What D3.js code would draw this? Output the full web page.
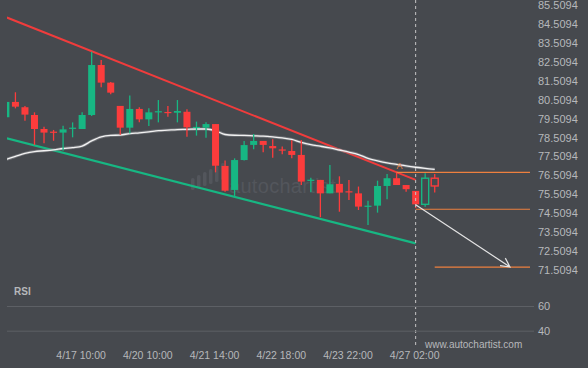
<!DOCTYPE html>
<html>
<head>
<meta charset="utf-8">
<script src="https://cdn.jsdelivr.net/npm/d3@7"></script>
<style>
    body { margin: 0; background: #46494e; }
    svg { display: block; font-family: "Liberation Sans", Arial, sans-serif; }
</style>
</head>
<body>
<svg id="chart" width="588" height="368"></svg>
<script>
// 4h candles
const times = [
    "4/16 02:00", "4/16 06:00", "4/16 10:00", "4/16 14:00", "4/16 18:00", "4/16 22:00",
    "4/17 02:00", "4/17 06:00", "4/17 10:00", "4/17 14:00", "4/17 18:00", "4/17 22:00",
    "4/19 22:00", "4/20 02:00", "4/20 06:00", "4/20 10:00", "4/20 14:00", "4/20 18:00",
    "4/20 22:00", "4/21 02:00", "4/21 06:00", "4/21 10:00", "4/21 14:00", "4/21 18:00",
    "4/21 22:00", "4/22 02:00", "4/22 06:00", "4/22 10:00", "4/22 14:00", "4/22 18:00",
    "4/22 22:00", "4/23 02:00", "4/23 06:00", "4/23 10:00", "4/23 14:00", "4/23 18:00",
    "4/23 22:00", "4/24 02:00", "4/24 06:00", "4/24 10:00", "4/24 14:00", "4/24 18:00",
    "4/26 22:00", "4/27 02:00", "4/27 06:00", "4/27 10:00"
];
const opens  = [79.42, 80.23, 79.95, 79.54, 78.80, 78.66, 78.61, 78.83, 78.80, 79.54, 82.18, 81.25,
                80.02, 78.87, 79.86, 79.31, 79.70, 79.70, 79.66, 79.71, 78.85, 78.87, 79.06, 76.85,
                75.58, 77.16, 77.96, 78.17, 77.90, 77.72, 77.64, 77.43, 76.08, 76.11, 75.40, 75.90,
                75.51, 75.40, 74.71, 74.75, 75.79, 76.20, 75.84, 75.53, 74.82, 76.20];
const highs  = [80.23, 80.74, 80.02, 79.68, 78.92, 78.75, 78.97, 79.15, 79.68, 82.88, 82.45, 81.28,
                80.02, 80.57, 79.95, 79.89, 80.33, 80.02, 80.33, 79.84, 79.19, 79.15, 79.06, 77.13,
                77.25, 78.17, 78.54, 78.17, 78.26, 77.87, 78.20, 78.22, 76.23, 76.11, 76.90, 76.30,
                76.11, 75.76, 75.01, 76.07, 76.42, 76.54, 75.84, 75.53, 76.46, 76.42];
const lows   = [79.40, 79.89, 79.24, 77.96, 78.05, 78.18, 77.65, 78.36, 78.80, 79.49, 81.00, 80.63,
                78.49, 78.56, 79.15, 78.96, 79.15, 79.45, 79.15, 78.39, 78.45, 78.34, 76.51, 75.49,
                75.22, 77.13, 77.73, 77.57, 77.28, 77.46, 77.25, 75.84, 75.46, 74.14, 75.40, 74.43,
                75.05, 74.52, 73.73, 74.38, 75.09, 75.84, 75.49, 74.62, 74.69, 75.44];
const closes = [80.23, 79.98, 79.56, 78.80, 78.61, 78.61, 78.78, 78.87, 79.54, 82.18, 81.25, 80.72,
                78.87, 79.86, 79.31, 79.68, 79.74, 79.66, 79.75, 78.89, 78.91, 79.06, 76.86, 75.54,
                77.16, 77.95, 78.17, 77.96, 77.78, 77.66, 77.43, 76.02, 76.12, 75.40, 75.88, 75.44,
                75.46, 74.70, 74.75, 75.79, 76.20, 75.84, 75.62, 74.82, 76.20, 75.79];
const movingAvg = [77.19, 77.35, 77.51, 77.61, 77.65, 77.70, 77.77, 77.82, 77.90, 78.17, 78.38, 78.46,
                   78.48, 78.56, 78.60, 78.65, 78.71, 78.74, 78.77, 78.78, 78.80, 78.80, 78.71, 78.51,
                   78.47, 78.46, 78.44, 78.42, 78.38, 78.33, 78.25, 78.09, 77.97, 77.89, 77.80, 77.69,
                   77.58, 77.45, 77.25, 77.12, 77.01, 76.93, 76.85, 76.78, 76.72, 76.67];
const rsiValues = [64.3, 64.3, 64.3, 61.6, 58.9, 55.7, 55.7, 59.4, 61.4, 61.4, 61.4, 58.9,
                   55.7, 55.7, 55.7, 58.1, 58.9, 55.7, 58.9, 55.7, 55.7, 55.7, 52.9, 50.0,
                   53.3, 53.3, 53.3, 53.3, 50.0, 50.0, 50.0, 47.6, 47.6, 44.6, 44.6, 44.6,
                   44.6, 44.6, 47.3, 50.0, 50.0, 47.3, 44.3, 41.1, 44.3, 44.3];

const priceTicks = [85.5094, 84.5094, 83.5094, 82.5094, 81.5094, 80.5094, 79.5094, 78.5094,
                    77.5094, 76.5094, 75.5094, 74.5094, 73.5094, 72.5094, 71.5094];
const timeTicks = ["4/17 10:00", "4/20 10:00", "4/21 14:00", "4/22 18:00", "4/23 22:00", "4/27 02:00"];
const rsiTicks = [60, 40];

// channel lines as [candle index, price]
const upperLine = [[0.1, 84.69], [43, 76.11]];
const lowerLine = [[0.1, 78.31], [43, 72.76]];
// pattern levels: [from index, price]
const levels = [[41, 76.51], [43, 74.56], [45, 71.50]];
const forecast = [[43, 74.80], [52.9, 71.51]];
const patternEnd = 43;      // dashed marker, candles after it are hollow
const lastIndex = 55;

const width = 588, height = 368;
const plotLeft = 7, plotRight = 535;
const red = "#fc3c3c", green = "#17b783", orange = "#ee803f";
const textColor = "#b6b8bb";

const svg = d3.select("#chart");
svg.append("rect").attr("width", width).attr("height", height).attr("fill", "#46494e");

const x = d3.scaleLinear().domain([0, lastIndex]).range([5.9, 530]);
const y = d3.scaleLinear().domain([71.5094, 85.5094]).range([267, 2]);
const rsiY = d3.scaleLinear().domain([40, 60]).range([330.7, 306]);

svg.append("clipPath").attr("id", "plot")
    .append("rect").attr("x", plotLeft).attr("y", 0)
    .attr("width", plotRight - plotLeft).attr("height", 280);

// watermark
let mark = svg.append("g").attr("fill", "#53565c");
d3.range(6).forEach(k => {
    mark.append("rect")
        .attr("x", 191 + k * 6).attr("y", 178 - k * 3)
        .attr("width", 3.5).attr("height", 12 + k).attr("rx", 1.5);
});
mark.append("text")
    .attr("x", 229).attr("y", 193)
    .attr("font-size", 20)
    .attr("letter-spacing", 0.3)
    .text("autochartist");

const layer = svg.append("g").attr("clip-path", "url(#plot)");
const line = d3.line().x(d => x(d[0])).y(d => y(d[1]));

layer.append("path").datum(lowerLine)
    .attr("d", line).attr("fill", "none")
    .attr("stroke", green).attr("stroke-width", 2.2);
layer.append("path").datum(upperLine)
    .attr("d", line).attr("fill", "none")
    .attr("stroke", "#f03c3c").attr("stroke-width", 2);

let maLine = d3.line().x((d, i) => x(i)).y(d => y(d)).curve(d3.curveMonotoneX);
layer.append("path").datum(movingAvg)
    .attr("d", maLine).attr("fill", "none")
    .attr("stroke", "#8c8e92").attr("stroke-width", 3).attr("opacity", 0.6);
layer.append("path").datum(movingAvg)
    .attr("d", maLine).attr("fill", "none")
    .attr("stroke", "#f2f2f2").attr("stroke-width", 1.3);

// candles
const candles = times.map((t, i) => ({
    i: i, o: opens[i], h: highs[i], l: lows[i], c: closes[i],
    up: closes[i] >= opens[i], hollow: i > patternEnd
}));
const bodyW = 7;

let cg = layer.selectAll(".candle")
    .data(candles)
    .join("g")
    .attr("class", "candle");

cg.append("line")
    .attr("x1", d => x(d.i)).attr("x2", d => x(d.i))
    .attr("y1", d => y(d.h))
    .attr("y2", d => d.hollow ? y(Math.max(d.o, d.c)) : y(d.l))
    .attr("stroke", d => d.up ? green : red)
    .attr("stroke-width", 1.3);
cg.filter(d => d.hollow).append("line")
    .attr("x1", d => x(d.i)).attr("x2", d => x(d.i))
    .attr("y1", d => y(Math.min(d.o, d.c)))
    .attr("y2", d => y(d.l))
    .attr("stroke", d => d.up ? green : red)
    .attr("stroke-width", 1.3);
cg.append("rect")
    .attr("x", d => x(d.i) - bodyW / 2)
    .attr("y", d => y(Math.max(d.o, d.c)))
    .attr("width", bodyW)
    .attr("height", d => Math.max(1.2, Math.abs(y(d.o) - y(d.c))))
    .attr("fill", d => d.hollow ? "none" : (d.up ? green : red))
    .attr("stroke", d => d.hollow ? (d.up ? green : red) : "none")
    .attr("stroke-width", 1.4);

// levels and forecast arrow
svg.selectAll(".level")
    .data(levels)
    .join("line")
    .attr("class", "level")
    .attr("x1", d => x(d[0])).attr("x2", x(lastIndex))
    .attr("y1", d => y(d[1])).attr("y2", d => y(d[1]))
    .attr("stroke", orange).attr("stroke-width", 1.2);

let [a, b] = forecast.map(d => [x(d[0]), y(d[1])]);
let ang = Math.atan2(b[1] - a[1], b[0] - a[0]);
let head = 10;
svg.append("path")
    .attr("d", `M${a[0]},${a[1]}L${b[0]},${b[1]}` +
        `M${b[0] - head * Math.cos(ang - 0.45)},${b[1] - head * Math.sin(ang - 0.45)}L${b[0]},${b[1]}` +
        `L${b[0] - head * Math.cos(ang + 0.5)},${b[1] - head * Math.sin(ang + 0.5)}`)
    .attr("fill", "none")
    .attr("stroke", "#e4e4e4").attr("stroke-width", 1.2);

svg.append("text")
    .attr("x", x(41) + 3).attr("y", y(highs[41]) - 3)
    .attr("text-anchor", "middle")
    .attr("font-size", 9)
    .attr("fill", orange)
    .text("A");

// pattern end marker
svg.append("line")
    .attr("x1", x(patternEnd)).attr("x2", x(patternEnd))
    .attr("y1", 0).attr("y2", 348)
    .attr("stroke", "#c4c4c4").attr("stroke-width", 1)
    .attr("stroke-dasharray", "3,3");

// price axis
let py = svg.append("g")
    .attr("transform", `translate(530,0)`)
    .call(d3.axisRight(y).tickValues(priceTicks).tickFormat(d3.format(".4f")).tickSize(0).tickPadding(8));
py.select(".domain").remove();
py.selectAll("text")
    .attr("y", 3)
    .attr("font-family", "Liberation Sans, Arial, sans-serif")
    .attr("font-size", 11)
    .attr("fill", textColor);

// RSI panel
let ry = svg.append("g")
    .attr("transform", `translate(534,0)`)
    .call(d3.axisRight(rsiY).tickValues(rsiTicks).tickSize(-(534 - plotLeft)).tickPadding(4));
ry.select(".domain").remove();
ry.selectAll("line").attr("stroke", "#5d6065");
ry.selectAll("text")
    .attr("font-family", "Liberation Sans, Arial, sans-serif")
    .attr("font-size", 11)
    .attr("fill", textColor);

svg.append("g").attr("clip-path", "url(#plot)")
    .append("path").datum(rsiValues)
    .attr("d", d3.line().x((d, i) => x(i)).y(d => rsiY(d)))
    .attr("fill", "none")
    .attr("stroke", "#ededed").attr("stroke-width", 1.2);

svg.append("text")
    .attr("x", 14).attr("y", 295)
    .attr("font-size", 10).attr("font-weight", "bold")
    .attr("fill", textColor)
    .text("RSI");

svg.append("text")
    .attr("x", 425).attr("y", 348)
    .attr("font-size", 10)
    .attr("fill", textColor)
    .text("www.autochartist.com");

// time axis
let tickIdx = timeTicks.map(t => times.indexOf(t));
let tx = svg.append("g")
    .attr("transform", `translate(-1.5,352)`)
    .call(d3.axisBottom(x).tickValues(tickIdx).tickFormat(i => times[i]).tickSize(0).tickPadding(0));
tx.select(".domain").remove();
tx.selectAll("text")
    .attr("font-family", "Liberation Sans, Arial, sans-serif")
    .attr("font-size", 10.5)
    .attr("fill", textColor);
</script>
</body>
</html>
